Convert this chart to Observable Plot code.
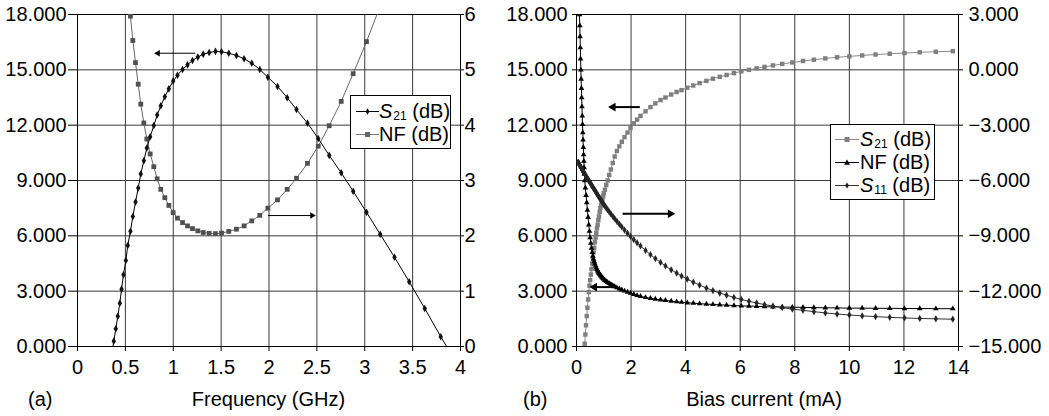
<!DOCTYPE html>
<html><head><meta charset="utf-8">
<script src="https://cdn.jsdelivr.net/npm/d3@7"></script>
<script src="https://cdn.jsdelivr.net/npm/@observablehq/plot@0.6"></script>
<style>
body{margin:0;background:#fff;font-family:'Liberation Sans',Arial,Helvetica,sans-serif;}
#wrap{position:relative;width:1049px;height:416px;overflow:hidden;background:#fff;}
.pane{position:absolute;top:0;}
.lbl{position:absolute;font-size:20px;line-height:20px;white-space:nowrap;color:#000;}
.legend{position:absolute;box-sizing:border-box;border:1px solid #000;background:#fff;font-size:20px;color:#000;}
.row{display:flex;align-items:center;white-space:nowrap;height:23px;line-height:23px;}
.row svg{flex:none;display:block;}
sub{font-size:12px;vertical-align:-2px;line-height:0;margin-left:1px;}
</style></head><body>
<div id="wrap">
  <div id="paneA" class="pane" style="left:0"></div>
  <div id="paneB" class="pane" style="left:524px"></div>
  <div class="lbl" style="left:28px;top:389px">(a)</div>
  <div class="lbl" style="left:168.5px;top:389px;width:200px;text-align:center">Frequency (GHz)</div>
  <div class="lbl" style="left:523px;top:389px">(b)</div>
  <div class="lbl" style="left:664px;top:389px;width:200px;text-align:center">Bias current (mA)</div>
  <div class="legend" style="left:350px;top:95px;width:101px;height:54px;padding:4px 0 0 5px">
    <div class="row"><svg width="23" height="23"><line x1="0" x2="23" y1="11.5" y2="11.5" stroke="#000" stroke-width="1"/><path d="M11.5,8.3L13.5,11.5L11.5,14.7L9.5,11.5Z" fill="#111"/></svg><span><i>S</i><sub>21</sub> (dB)</span></div>
    <div class="row"><svg width="23" height="23"><line x1="0" x2="23" y1="11.5" y2="11.5" stroke="#777" stroke-width="1"/><rect x="9" y="9" width="5" height="5" fill="#666"/></svg><span>NF (dB)</span></div>
  </div>
  <div class="legend" style="left:830px;top:124px;width:105px;height:76px;padding:3px 0 0 4px">
    <div class="row"><svg width="24" height="23"><line x1="0" x2="24" y1="11.5" y2="11.5" stroke="#8a8a8a" stroke-width="1"/><rect x="9.5" y="9" width="5" height="5" fill="#7f7f7f"/></svg><span style="margin-left:1px"><i>S</i><sub>21</sub> (dB)</span></div>
    <div class="row"><svg width="24" height="23"><line x1="0" x2="24" y1="11.5" y2="11.5" stroke="#000" stroke-width="1"/><path d="M12,8.5L15,13.8L9,13.8Z" fill="#000"/></svg><span style="margin-left:1px">NF (dB)</span></div>
    <div class="row"><svg width="24" height="23"><line x1="0" x2="24" y1="11.5" y2="11.5" stroke="#333" stroke-width="1"/><path d="M12,8.5L14,11.5L12,14.5L10,11.5Z" fill="#222"/></svg><span style="margin-left:1px"><i>S</i><sub>11</sub> (dB)</span></div>
  </div>
</div>
<script>
// ---------- Panel (a): frequency sweep ----------
const freqGHz = [0.362,0.379,0.400,0.421,0.442,0.460,0.480,0.505,0.525,0.553,0.578,0.606,0.634,0.661,0.693,0.724,0.759,0.797,0.832,0.870,0.912,0.954,0.999,1.044,1.097,1.149,1.201,1.257,1.313,1.375,1.441,1.504,1.580,1.660,1.740,1.820,1.904,1.988,2.089,2.190,2.287,2.402,2.514,2.629,2.754,2.879,3.018,3.161,3.311,3.464,3.627,3.794,3.970];
const s21FreqDb = [-0.30,0.29,0.96,1.64,2.35,3.11,3.89,4.66,5.48,6.25,7.05,7.83,8.59,9.35,10.07,10.76,11.37,11.98,12.55,13.05,13.54,13.97,14.39,14.71,15.02,15.27,15.51,15.69,15.85,15.94,16.00,15.98,15.90,15.78,15.60,15.36,15.02,14.60,14.10,13.49,12.85,12.11,11.28,10.36,9.42,8.42,7.28,6.09,4.84,3.51,2.06,0.53,-1.00];
const nfFreqDb = [null,null,null,null,null,null,null,null,6.45,5.97,5.53,5.13,4.74,4.38,4.04,3.75,3.48,3.25,3.03,2.84,2.69,2.55,2.42,2.32,2.24,2.18,2.13,2.09,2.06,2.045,2.04,2.05,2.08,2.12,2.18,2.27,2.37,2.50,2.65,2.84,3.04,3.31,3.62,3.99,4.43,4.93,5.51,6.15,null,null,null,null,null];
const freqTicks = [0,0.5,1,1.5,2,2.5,3,3.5,4];
const gainTicks = [0,3,6,9,12,15,18];
const nfTicksA = [0,1,2,3,4,5,6];
const freqArrowFrom = [1.23, 1.99];
const freqArrowTo = [0.84, 2.45];
const freqArrowLevel = [15.9, 7.1];

// ---------- Panel (b): bias sweep ----------
const biasMa = [0.06,0.07,0.08,0.09,0.10,0.11,0.12,0.13,0.14,0.15,0.16,0.17,0.18,0.19,0.20,0.21,0.22,0.23,0.24,0.25,0.26,0.27,0.28,0.29,0.30,
0.325,0.35,0.375,0.40,0.425,0.45,0.475,0.50,0.525,0.55,0.575,0.60,0.625,0.65,0.675,0.70,0.725,0.75,0.775,0.80,0.825,0.85,0.875,0.90,0.925,0.95,0.975,1.00,
1.04,1.09,1.14,1.20,1.26,1.33,1.40,1.48,1.57,1.66,1.76,1.87,1.98,2.10,2.22,
2.345,2.53,2.71,2.89,3.08,3.26,3.47,3.67,3.85,4.06,4.28,4.51,4.76,5.00,5.25,5.50,5.77,6.04,6.32,6.60,6.89,7.20,7.54,7.91,8.30,8.70,9.12,9.55,10.0,10.47,10.96,11.48,12.02,12.58,13.17,13.79];
const s21BiasDb = [null,null,null,null,null,null,null,null,null,null,null,null,null,null,null,null,null,null,null,null,null,null,null,null,0.15,
0.65,1.15,1.65,2.1,2.55,2.95,3.3,3.6,3.9,4.2,4.5,4.8,5.1,5.35,5.65,5.9,6.15,6.4,6.6,6.85,7.05,7.3,7.5,7.65,7.85,8.0,8.15,8.3,
8.5,8.75,9.0,9.3,9.6,9.95,10.3,10.6,10.85,11.1,11.35,11.6,11.85,12.1,12.3,
12.5,12.75,12.98,13.18,13.36,13.5,13.66,13.8,13.9,14.03,14.15,14.28,14.4,14.52,14.62,14.72,14.82,14.92,15.0,15.08,15.16,15.24,15.32,15.4,15.48,15.55,15.62,15.68,15.73,15.78,15.83,15.87,15.91,15.95,15.98,16.01];
const nfBiasDb = [22.0,21.2,20.4,19.6,18.8,18.0,17.4,16.8,16.2,15.6,15.0,14.5,14.0,13.5,13.0,12.5,12.05,11.6,11.2,10.8,10.4,10.05,9.7,9.35,9.0,
8.6,8.2,7.8,7.4,7.0,6.6,6.25,5.9,5.6,5.33,5.1,4.9,4.74,4.6,4.48,4.37,4.27,4.18,4.1,4.03,3.97,3.92,3.87,3.82,3.77,3.73,3.69,3.65,
3.59,3.53,3.48,3.42,3.37,3.31,3.25,3.19,3.13,3.07,3.01,2.95,2.89,2.83,2.77,
2.72,2.66,2.61,2.57,2.53,2.5,2.46,2.43,2.4,2.37,2.35,2.32,2.3,2.28,2.26,2.24,2.22,2.2,2.19,2.18,2.16,2.15,2.14,2.13,2.12,2.11,2.1,2.09,2.08,2.08,2.07,2.07,2.06,2.06,2.05,2.05];
const s11BiasDb = [-5.00,-5.03,-5.06,-5.09,-5.12,-5.14,-5.17,-5.20,-5.23,-5.25,-5.28,-5.31,-5.33,-5.36,-5.39,-5.41,-5.44,-5.46,-5.49,-5.51,-5.54,-5.56,-5.59,-5.61,-5.64,
-5.70,-5.76,-5.82,-5.88,-5.94,-6.00,-6.06,-6.12,-6.18,-6.24,-6.30,-6.36,-6.42,-6.48,-6.54,-6.60,-6.66,-6.72,-6.78,-6.84,-6.90,-6.96,-7.02,-7.07,-7.13,-7.18,-7.24,-7.29,
-7.38,-7.48,-7.58,-7.70,-7.81,-7.94,-8.07,-8.21,-8.37,-8.52,-8.69,-8.86,-9.03,-9.21,-9.38,
-9.55,-9.79,-10.02,-10.23,-10.44,-10.63,-10.84,-11.02,-11.18,-11.35,-11.51,-11.67,-11.83,-11.97,-12.10,-12.22,-12.34,-12.45,-12.55,-12.64,-12.73,-12.81,-12.89,-12.97,-13.04,-13.11,-13.18,-13.24,-13.29,-13.34,-13.38,-13.42,-13.45,-13.48,-13.50,-13.52];
const biasTicks = [0,2,4,6,8,10,12,14];
const s11Ticks = [-15,-12,-9,-6,-3,0,3];
const biasArrowFrom = [2.32, 1.69, 1.45];
const biasArrowTo = [1.34, 3.44, 0.66];
const biasArrowLevel = [12.98, 7.2, 3.22];

// ---------- helpers ----------
const style = {fontFamily: "'Liberation Sans', Arial, Helvetica, sans-serif", fontSize: "20px", background: "white", overflow: "visible", color: "#000"};
const signed = v => (v < -1e-9 ? "\u2212" + (-v).toFixed(3) : Math.abs(v).toFixed(3));
const arrowRows = (from, to, lvl) => from.map((x1, i) => ({x1, x2: to[i], y: lvl[i], rot: to[i] > x1 ? 90 : -90}));

// Panel (a) table: NF is drawn on the right axis (0..6) mapped onto the left scale (0..18)
const rowsA = freqGHz.map((f, i) => ({f, s21: s21FreqDb[i], nf: nfFreqDb[i] == null ? null : nfFreqDb[i] * 3}));
const arrA = arrowRows(freqArrowFrom, freqArrowTo, freqArrowLevel);

const chartA = Plot.plot({
  width: 524, height: 416, marginLeft: 77, marginRight: 64, marginTop: 14, marginBottom: 70,
  style,
  x: {domain: [0, 4], label: null},
  y: {domain: [0, 18], label: null},
  marks: [
    Plot.gridX({ticks: freqTicks, stroke: "#3a3a3a", strokeOpacity: 1}),
    Plot.gridY({ticks: gainTicks, stroke: "#3a3a3a", strokeOpacity: 1}),
    Plot.frame({stroke: "#000"}),
    Plot.axisY({ticks: gainTicks, anchor: "left", tickSize: 9, tickPadding: 2, tickFormat: d => d.toFixed(3), label: null}),
    Plot.axisY({ticks: nfTicksA.map(v => v * 3), anchor: "right", tickSize: 3, tickPadding: 1, tickFormat: d => String(d / 3), label: null}),
    Plot.axisX({ticks: freqTicks, anchor: "bottom", tickSize: 5, tickPadding: 8, tickFormat: d => String(d), label: null}),
    Plot.line(rowsA, {x: "f", y: "nf", stroke: "#666", strokeWidth: 1, clip: true}),
    Plot.dot(rowsA, {x: "f", y: "nf", symbol: "square", r: 2.7, fill: "#505050", clip: true}),
    Plot.line(rowsA, {x: "f", y: "s21", stroke: "#000", strokeWidth: 1, clip: true}),
    Plot.dot(rowsA, {x: "f", y: "s21", symbol: "diamond", r: 2.3, fill: "#111", clip: true}),
    Plot.link(arrA, {x1: "x1", x2: "x2", y1: "y", y2: "y", stroke: "#000", strokeWidth: 1}),
    Plot.dot(arrA, {x: "x2", y: "y", symbol: "triangle", r: 2.4, fill: "#000", rotate: "rot"})
  ]
});
document.getElementById("paneA").append(chartA);

// Panel (b) table: S11 is on the right axis (-15..3) mapped onto the left scale (0..18)
const rowsB = biasMa.map((b, i) => ({b, s21: s21BiasDb[i], nf: nfBiasDb[i], s11: s11BiasDb[i] + 15}));
const arrB = arrowRows(biasArrowFrom, biasArrowTo, biasArrowLevel);

const chartB = Plot.plot({
  width: 525, height: 416, marginLeft: 52, marginRight: 91, marginTop: 14, marginBottom: 70,
  style,
  x: {domain: [0, 14], label: null},
  y: {domain: [0, 18], label: null},
  marks: [
    Plot.gridX({ticks: biasTicks, stroke: "#3a3a3a", strokeOpacity: 1}),
    Plot.gridY({ticks: gainTicks, stroke: "#3a3a3a", strokeOpacity: 1}),
    Plot.frame({stroke: "#000"}),
    Plot.axisY({ticks: gainTicks, anchor: "left", tickSize: 4, tickPadding: 5, tickFormat: d => d.toFixed(3), label: null}),
    Plot.axisY({ticks: s11Ticks.map(v => v + 15), anchor: "right", tickSize: 4, tickPadding: 6, tickFormat: d => signed(d - 15), label: null}),
    Plot.axisX({ticks: biasTicks, anchor: "bottom", tickSize: 5, tickPadding: 8, tickFormat: d => String(d), label: null}),
    Plot.line(rowsB, {x: "b", y: "s21", stroke: "#8a8a8a", strokeWidth: 1, clip: true}),
    Plot.dot(rowsB, {x: "b", y: "s21", symbol: "square", r: 2.5, fill: "#7f7f7f", clip: true}),
    Plot.line(rowsB, {x: "b", y: "nf", stroke: "#000", strokeWidth: 1, clip: true}),
    Plot.dot(rowsB, {x: "b", y: "nf", symbol: "triangle", r: 2.1, fill: "#000", clip: true}),
    Plot.line(rowsB, {x: "b", y: "s11", stroke: "#333", strokeWidth: 1, clip: true}),
    Plot.dot(rowsB, {x: "b", y: "s11", symbol: "diamond", r: 2.2, fill: "#262626", clip: true}),
    Plot.link(arrB, {x1: "x1", x2: "x2", y1: "y", y2: "y", stroke: "#000", strokeWidth: 2}),
    Plot.dot(arrB, {x: "x2", y: "y", symbol: "triangle", r: 3.2, fill: "#000", rotate: "rot"})
  ]
});
document.getElementById("paneB").append(chartB);
</script>
</body></html>
